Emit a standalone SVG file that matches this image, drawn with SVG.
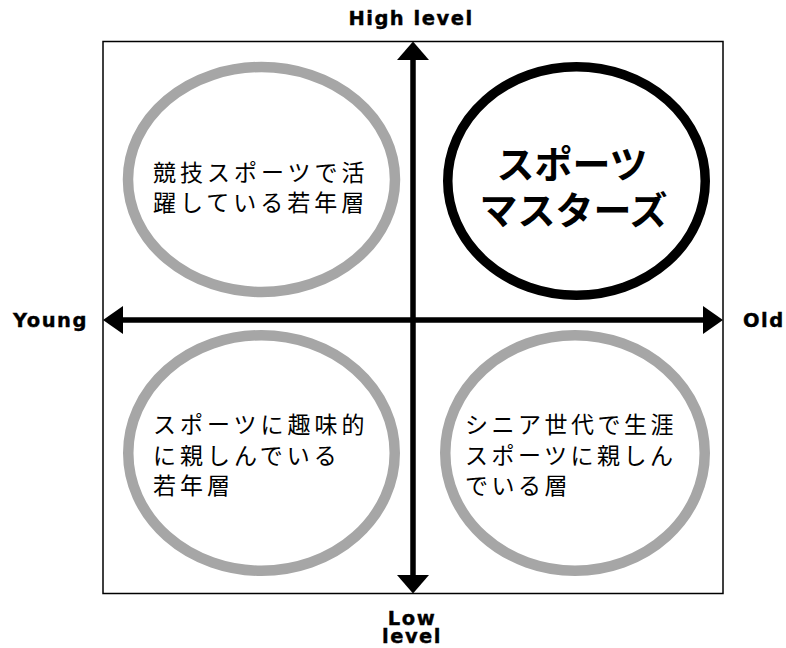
<svg xmlns="http://www.w3.org/2000/svg" width="786" height="648" viewBox="0 0 786 648">
<style>
.lbl{font-family:"DejaVu Sans",sans-serif;font-weight:bold;font-size:19.5px;letter-spacing:1.5px;fill:#000;stroke:#000;stroke-width:0.4}
.jp{font-family:"Noto Sans CJK JP",sans-serif;font-size:23px;letter-spacing:4px;fill:#000}
.big{font-family:"Noto Sans CJK JP",sans-serif;font-weight:bold;font-size:38px;fill:#000;text-anchor:middle}
.gray{fill:#fff;stroke:#a6a6a6;stroke-width:10.5}
.blk{fill:#fff;stroke:#000;stroke-width:9.5}
.ax{stroke:#000;stroke-width:5.5;fill:none}
</style>
<rect x="0" y="0" width="786" height="648" fill="#fff"/>
<rect x="103" y="41.5" width="620" height="552" fill="none" stroke="#000" stroke-width="1.5"/>
<g id="n_young_high">
<ellipse class="gray" cx="261.5" cy="179.5" rx="133.5" ry="112.5"/>
<text class="jp" x="153" y="181">競技スポーツで活</text>
<text class="jp" x="153" y="210.5">躍している若年層</text>
</g>
<g id="n_masters">
<ellipse class="blk" cx="576.5" cy="181" rx="128.75" ry="114.25"/>
<text class="big" x="572" y="178">スポーツ</text>
<text class="big" x="573.5" y="224">マスターズ</text>
</g>
<g id="n_young_low">
<ellipse class="gray" cx="261.5" cy="453" rx="133.25" ry="117.75"/>
<text class="jp" x="153" y="433">スポーツに趣味的</text>
<text class="jp" x="153" y="464">に親しんでいる</text>
<text class="jp" x="153" y="494">若年層</text>
</g>
<g id="n_senior">
<ellipse class="gray" cx="575" cy="453" rx="129.75" ry="117.75"/>
<text class="jp" x="465" y="433" style="letter-spacing:3.5px">シニア世代で生涯</text>
<text class="jp" x="465" y="464" style="letter-spacing:3.5px">スポーツに親しん</text>
<text class="jp" x="465" y="494" style="letter-spacing:3.5px">でいる層</text>
</g>
<g id="connectors">
<line class="ax" x1="413" y1="58" x2="413" y2="577"/>
<line class="ax" x1="120" y1="320" x2="706" y2="320"/>
<polygon points="413,41.5 397,60 429,60" fill="#000"/>
<polygon points="413,593.5 397,575 429,575" fill="#000"/>
<polygon points="103,320 123,306 123,334" fill="#000"/>
<polygon points="723,320 703,306 703,334" fill="#000"/>
</g>
<g id="labels">
<text class="lbl" x="411" y="25" text-anchor="middle">High level</text>
<text class="lbl" x="13" y="327">Young</text>
<text class="lbl" x="743" y="327">Old</text>
<text class="lbl" x="412" y="625" text-anchor="middle">Low</text>
<text class="lbl" x="412" y="643" text-anchor="middle">level</text>
</g>
</svg>
